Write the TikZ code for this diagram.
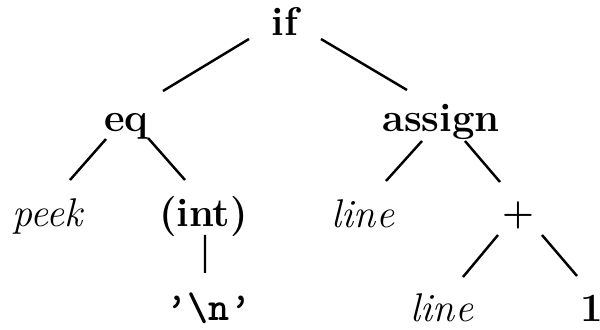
\documentclass[tikz,border=0pt]{standalone}
\usetikzlibrary{calc}

\begin{document}
\begin{tikzpicture}[
    x=0.02cm,y=-0.02cm,
    op/.style={anchor=base,inner sep=0pt,font=\fontsize{22.8}{27}\selectfont\bfseries\boldmath},
    var/.style={anchor=base,inner sep=0pt,font=\fontsize{22.8}{27}\selectfont\itshape},
    lit/.style={anchor=base,inner sep=0pt,font=\fontsize{22.8}{27}\selectfont\ttfamily\bfseries},
    edge/.style={line width=1.4pt,black}
  ]
    \useasboundingbox (0,0) rectangle (600,330);
    \node[op]  (if)     at (285,36)    {if};
    \node[op]  (eq)     at (126.5,132) {eq};
    \node[op]  (assign) at (441,132)   {assign};
    \node[var] (peek)   at (47.5,227)  {peek};
    \node[op]  (int)    at (203.5,227) {(int)};
    \node[var] (line)   at (363,228)   {line};
    \node[op]  (plus)   at (518,225)   {$+$};
    \node[lit] (nl)     at (209,321)   {\textquoteright\textbackslash n\textquoteright};
    \node[var] (line2)  at (442,322)   {line};
    \node[op]  (one)    at (592,322)   {1};

    \draw[edge] ($(if.base)+(-36,3)$) -- ($(eq.base)+(36.5,-41)$);
    \draw[edge] ($(if.base)+(36,3)$) -- ($(assign.base)+(-34,-42)$);
    \draw[edge] ($(eq.base)+(-20.5,7)$) -- ($(peek.base)+(22.5,-47)$);
    \draw[edge] ($(eq.base)+(21.5,6)$) -- ($(int.base)+(-18.5,-47)$);
    \draw[edge] ($(assign.base)+(-19,9)$) -- ($(line.base)+(23,-47)$);
    \draw[edge] ($(assign.base)+(24,9)$) -- ($(plus.base)+(-18,-43)$);
    \draw[edge] ($(int.base)+(1.5,8)$) -- ($(nl.base)+(-4,-48)$);
    \draw[edge] ($(plus.base)+(-20,10)$) -- ($(line2.base)+(21,-45)$);
    \draw[edge] ($(plus.base)+(24,10)$) -- ($(one.base)+(-15,-46)$);
\end{tikzpicture}
\end{document}
